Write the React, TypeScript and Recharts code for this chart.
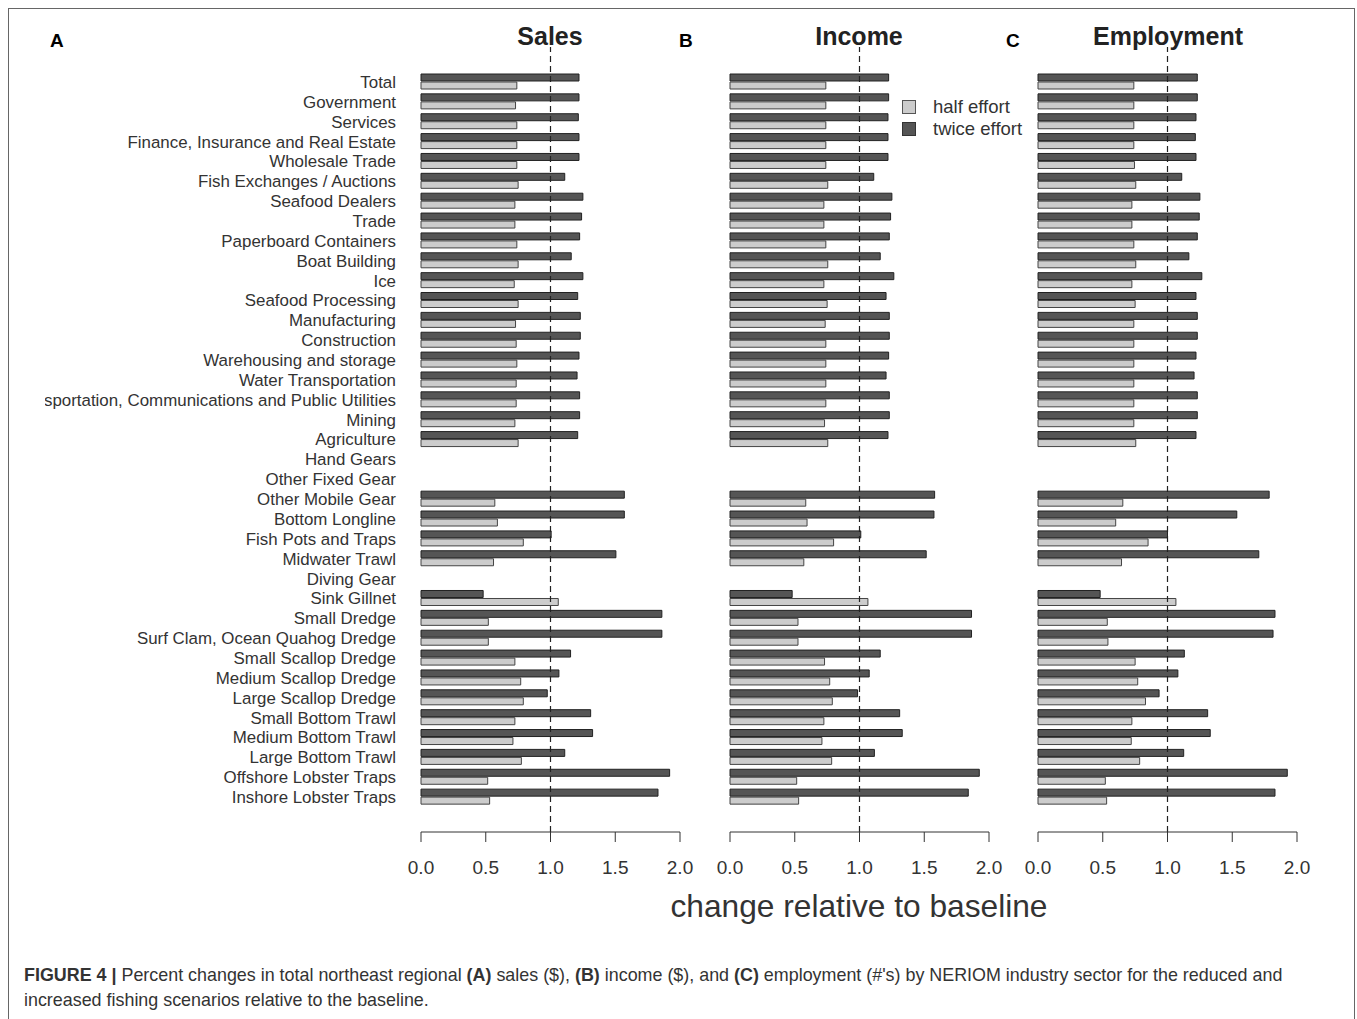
import React from 'react';
import { BarChart, Bar, XAxis, YAxis, ReferenceLine } from 'recharts';

const categories = [
  'Total', 'Government', 'Services', 'Finance, Insurance and Real Estate', 'Wholesale Trade',
  'Fish Exchanges / Auctions', 'Seafood Dealers', 'Trade', 'Paperboard Containers', 'Boat Building',
  'Ice', 'Seafood Processing', 'Manufacturing', 'Construction', 'Warehousing and storage',
  'Water Transportation', 'Transportation, Communications and Public Utilities', 'Mining', 'Agriculture',
  'Hand Gears', 'Other Fixed Gear', 'Other Mobile Gear', 'Bottom Longline', 'Fish Pots and Traps',
  'Midwater Trawl', 'Diving Gear', 'Sink Gillnet', 'Small Dredge', 'Surf Clam, Ocean Quahog Dredge',
  'Small Scallop Dredge', 'Medium Scallop Dredge', 'Large Scallop Dredge', 'Small Bottom Trawl',
  'Medium Bottom Trawl', 'Large Bottom Trawl', 'Offshore Lobster Traps', 'Inshore Lobster Traps',
];

const salesTwice = [1.22, 1.22, 1.215, 1.22, 1.22, 1.11, 1.25, 1.24, 1.225, 1.16, 1.25, 1.21, 1.23, 1.23, 1.22, 1.205, 1.225, 1.225, 1.21,
  null, null, 1.57, 1.57, 1.005, 1.505, null, 0.48, 1.86, 1.86, 1.155, 1.065, 0.975, 1.31, 1.325, 1.11, 1.92, 1.83];
const salesHalf = [0.74, 0.73, 0.74, 0.74, 0.74, 0.75, 0.725, 0.725, 0.74, 0.75, 0.72, 0.75, 0.73, 0.735, 0.74, 0.735, 0.735, 0.725, 0.75,
  null, null, 0.57, 0.59, 0.79, 0.56, null, 1.06, 0.52, 0.52, 0.725, 0.77, 0.79, 0.725, 0.71, 0.775, 0.515, 0.53];

const incomeTwice = [1.225, 1.225, 1.22, 1.22, 1.22, 1.11, 1.25, 1.24, 1.23, 1.16, 1.265, 1.205, 1.23, 1.23, 1.225, 1.205, 1.23, 1.23, 1.22,
  null, null, 1.58, 1.575, 1.01, 1.515, null, 0.48, 1.865, 1.865, 1.16, 1.075, 0.985, 1.31, 1.33, 1.115, 1.925, 1.84];
const incomeHalf = [0.74, 0.74, 0.74, 0.74, 0.74, 0.755, 0.725, 0.725, 0.74, 0.755, 0.725, 0.75, 0.735, 0.74, 0.74, 0.74, 0.74, 0.73, 0.755,
  null, null, 0.585, 0.595, 0.8, 0.57, null, 1.065, 0.525, 0.525, 0.73, 0.77, 0.79, 0.725, 0.71, 0.785, 0.515, 0.53];

const employmentTwice = [1.23, 1.23, 1.22, 1.215, 1.22, 1.11, 1.25, 1.245, 1.23, 1.165, 1.265, 1.22, 1.23, 1.23, 1.22, 1.205, 1.23, 1.23, 1.22,
  null, null, 1.785, 1.535, 1.0, 1.705, null, 0.48, 1.83, 1.815, 1.13, 1.08, 0.935, 1.31, 1.33, 1.125, 1.925, 1.83];
const employmentHalf = [0.74, 0.74, 0.74, 0.74, 0.745, 0.755, 0.725, 0.725, 0.74, 0.755, 0.725, 0.75, 0.74, 0.74, 0.74, 0.74, 0.74, 0.74, 0.755,
  null, null, 0.655, 0.6, 0.85, 0.645, null, 1.065, 0.535, 0.54, 0.75, 0.77, 0.83, 0.725, 0.72, 0.785, 0.52, 0.53];

const xTicks = [0, 0.5, 1, 1.5, 2];

const FONT = '"Liberation Sans", Arial, Helvetica, sans-serif';
const DARK = '#555555';
const LIGHT = '#cccccc';
const TEXT = '#333333';

const makeRows = (twice: (number | null)[], half: (number | null)[]) =>
  categories.map((name, i) => ({ name, twice: twice[i], half: half[i] }));

interface PanelProps {
  twice: (number | null)[];
  half: (number | null)[];
  showLabels: boolean;
  left: number;
  width: number;
}

function Panel({ twice, half, showLabels, left, width }: PanelProps) {
  const rows = makeRows(twice, half);
  const yWidth = showLabels ? 376 : 0;
  return (
    <div style={{ position: 'absolute', left, top: 0 }}>
      <BarChart
        width={width}
        height={892}
        data={rows}
        layout="vertical"
        margin={{ top: 47, right: 20, left: showLabels ? 0 : 20, bottom: 0 }}
        barCategoryGap={2}
        barGap={1}
      >
        <XAxis
          type="number"
          domain={[0, 2]}
          ticks={xTicks}
          interval={0}
          tickFormatter={(v: number) => v.toFixed(1)}
          tickSize={10}
          tickMargin={19}
          height={60}
          axisLine={{ stroke: TEXT }}
          tickLine={{ stroke: TEXT }}
          tick={{ fill: TEXT, fontSize: 19, fontFamily: FONT }}
        />
        <YAxis
          type="category"
          dataKey="name"
          width={yWidth}
          hide={!showLabels}
          interval={0}
          axisLine={false}
          tickLine={false}
          tickSize={0}
          tickMargin={25}
          padding={{ top: 25, bottom: 25 }}
          tick={{ fill: TEXT, fontSize: 16.9, fontFamily: FONT }}
        />
        <ReferenceLine x={1} stroke="#222" strokeDasharray="6 4" strokeWidth={1.2} />
        <Bar dataKey="twice" fill={DARK} stroke="#222" strokeWidth={1} isAnimationActive={false} />
        <Bar dataKey="half" fill={LIGHT} stroke="#444" strokeWidth={1} isAnimationActive={false} />
      </BarChart>
    </div>
  );
}

const abs = (x: number, y: number, extra: React.CSSProperties = {}): React.CSSProperties => ({
  position: 'absolute', left: x, top: y, fontFamily: FONT, color: TEXT, whiteSpace: 'nowrap', ...extra,
});

export default function App() {
  return (
    <div style={{ position: 'absolute', left: 0, top: 0, width: 1357, height: 1019, background: '#fff', overflow: 'hidden' }}>
      <div style={{ position: 'absolute', left: 8, top: 8, width: 1345, height: 1030, border: '1.5px solid #666', borderBottom: 'none' }} />

      <Panel twice={salesTwice} half={salesHalf} showLabels left={45} width={655} />
      <Panel twice={incomeTwice} half={incomeHalf} showLabels={false} left={710} width={299} />
      <Panel twice={employmentTwice} half={employmentHalf} showLabels={false} left={1018} width={299} />

      {/* panel letters and titles */}
      <div style={abs(50, 30, { fontSize: 19, fontWeight: 'bold', color: '#000' })}>A</div>
      <div style={abs(679, 30, { fontSize: 19, fontWeight: 'bold', color: '#000' })}>B</div>
      <div style={abs(1006, 30, { fontSize: 19, fontWeight: 'bold', color: '#000' })}>C</div>
      <div style={abs(450, 22, { width: 200, textAlign: 'center', fontSize: 25, fontWeight: 'bold', color: '#222' })}>Sales</div>
      <div style={abs(759, 22, { width: 200, textAlign: 'center', fontSize: 25, fontWeight: 'bold', color: '#222' })}>Income</div>
      <div style={abs(1068, 22, { width: 200, textAlign: 'center', fontSize: 25, fontWeight: 'bold', color: '#222' })}>Employment</div>

      {/* legend */}
      <div style={abs(902, 96, { fontSize: 18.5, lineHeight: '22px' })}>
        {[{ label: 'half effort', fill: LIGHT, stroke: '#555' }, { label: 'twice effort', fill: DARK, stroke: '#333' }].map((it) => (
          <div key={it.label} style={{ display: 'flex', alignItems: 'center' }}>
            <span style={{ display: 'inline-block', width: 12, height: 12, background: it.fill, border: `1px solid ${it.stroke}`, marginRight: 17 }} />
            <span>{it.label}</span>
          </div>
        ))}
      </div>

      <div style={abs(509, 888, { width: 700, textAlign: 'center', fontSize: 31.7 })}>change relative to baseline</div>

      <div style={abs(24, 963, { fontSize: 17.9, lineHeight: '25px', color: '#333' })}>
        <b>FIGURE 4 |</b> Percent changes in total northeast regional <b>(A)</b> sales ($), <b>(B)</b> income ($), and <b>(C)</b> employment (#'s) by NERIOM industry sector for the reduced and
        <br />
        increased fishing scenarios relative to the baseline.
      </div>
    </div>
  );
}
